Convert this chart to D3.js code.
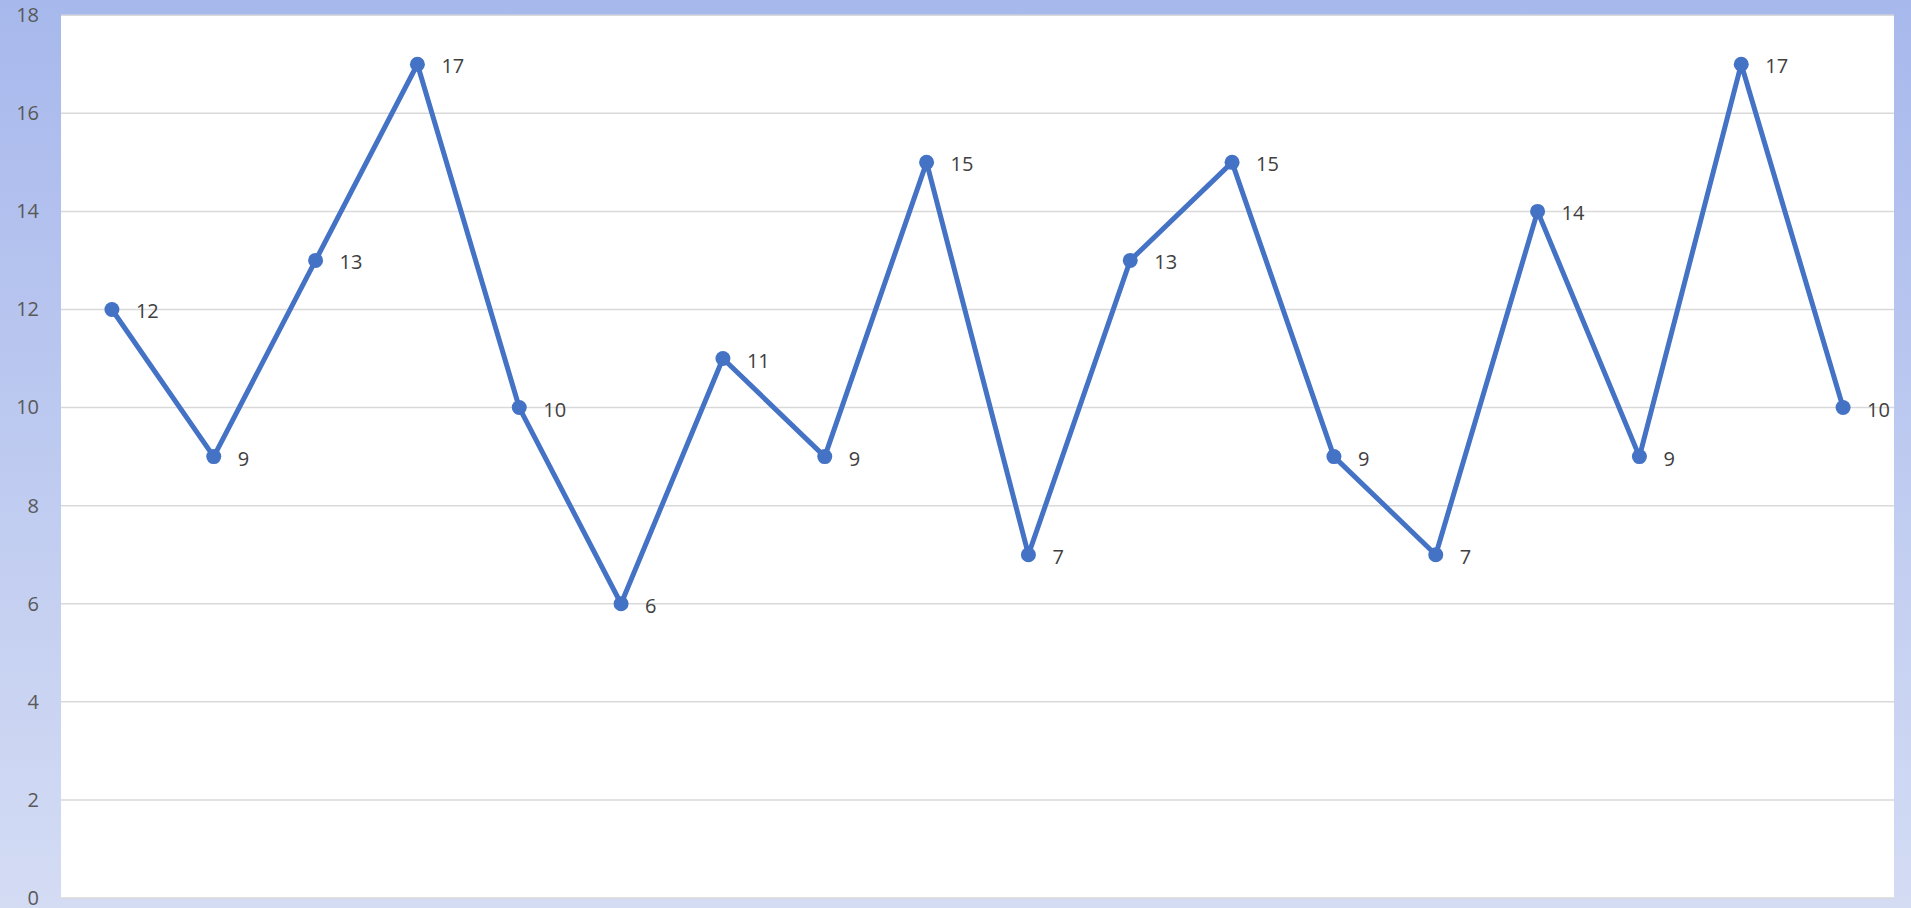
<!DOCTYPE html>
<html>
<head>
<meta charset="utf-8">
<script src="https://cdn.jsdelivr.net/npm/d3@7"></script>
<style>
  html, body { margin: 0; padding: 0; overflow: hidden; }
  #chart { width: 1911px; height: 908px; }
</style>
</head>
<body>
<div id="chart"></div>
<script>
// 数据
const categories = d3.range(1, 19).map(String);
const values = [12, 9, 13, 17, 10, 6, 11, 9, 15, 7, 13, 15, 9, 7, 14, 9, 17, 10];
const yTicks = [0, 2, 4, 6, 8, 10, 12, 14, 16, 18];

const W = 1911, H = 908;
const margin = { top: 15, right: 17, bottom: 10, left: 61 };

const svg = d3.select("#chart").append("svg")
    .attr("width", W)
    .attr("height", H)
    .style("font-family", "'Open Sans', Lato, sans-serif");

// 背景渐变
const grad = svg.append("defs").append("linearGradient")
    .attr("id", "bg").attr("x1", 0).attr("y1", 0).attr("x2", 0).attr("y2", 1);
grad.append("stop").attr("offset", "0%").attr("stop-color", "#a7b8ec");
grad.append("stop").attr("offset", "100%").attr("stop-color", "#d4dcf4");
svg.append("rect").attr("width", W).attr("height", H).attr("fill", "url(#bg)");

const x = d3.scaleBand(categories, [margin.left, W - margin.right]);
const y = d3.scaleLinear([0, 18], [898, 15.2]);

svg.append("rect")
    .attr("x", margin.left)
    .attr("y", y(18))
    .attr("width", W - margin.right - margin.left)
    .attr("height", y(0) - y(18))
    .attr("fill", "white");

// 网格线
svg.append("g")
    .selectAll("line")
    .data(yTicks)
    .join("line")
    .attr("x1", margin.left)
    .attr("x2", W - margin.right)
    .attr("y1", d => y(d))
    .attr("y2", d => y(d))
    .attr("stroke", "#d9d9d9")
    .attr("stroke-width", 1.5);

// y轴
svg.append("g")
    .attr("transform", `translate(${margin.left},0)`)
    .call(d3.axisLeft(y).tickValues(yTicks).tickSize(0).tickPadding(22))
    .call(g => g.select(".domain").remove())
    .call(g => g.selectAll("text")
        .attr("fill", "#595959")
        .attr("font-size", 20)
        .attr("font-family", "'Open Sans', Lato, sans-serif"));

const cx = d => x(d) + x.bandwidth() / 2;
const pts = categories.map((c, i) => [c, values[i]]);

const line = d3.line()
    .x(d => cx(d[0]))
    .y(d => y(d[1]));

svg.append("path")
    .datum(pts)
    .attr("fill", "none")
    .attr("stroke", "#4472c4")
    .attr("stroke-width", 5)
    .attr("stroke-linejoin", "round")
    .attr("d", line);

svg.append("g")
    .selectAll("circle")
    .data(pts)
    .join("circle")
    .attr("cx", d => cx(d[0]))
    .attr("cy", d => y(d[1]))
    .attr("r", 7.5)
    .attr("fill", "#4472c4");

// 数据标签
svg.append("g")
    .selectAll("text")
    .data(pts)
    .join("text")
    .attr("x", d => cx(d[0]) + 24)
    .attr("y", d => y(d[1]) + 2)
    .attr("dy", "0.35em")
    .attr("fill", "#404040")
    .attr("font-size", 20)
    .text(d => d[1]);
</script>
</body>
</html>
